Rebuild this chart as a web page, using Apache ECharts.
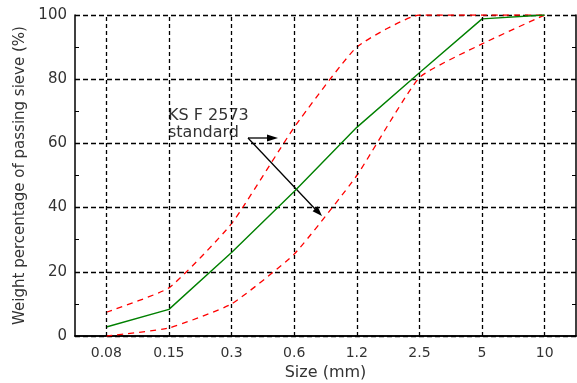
<!DOCTYPE html>
<html><head><meta charset="utf-8">
<script src="https://cdn.jsdelivr.net/npm/echarts@6/dist/echarts.min.js"></script>
<style>html,body{margin:0;padding:0;background:#fff}#c{width:577px;height:383px}</style>
</head><body><div id="c"></div>
<script>
const sizes = ['0.08','0.15','0.3','0.6','1.2','2.5','5','10'];
const measured = [2.8, 8.3, 26, 45, 65, 82, 98.8, 100];
const upperLimit = [7.4, 15, 35, 65, 90, 100, 100, 100];
const lowerLimit = [0, 2.5, 10, 25.5, 50, 80.5, 91, 100];
const yTicks = [0, 20, 40, 60, 80, 100];

const chart = echarts.init(document.getElementById('c'));
const FONT = '"DejaVu Sans", Verdana, sans-serif';
const redDash = {color:'#ff0000', width:1.3, type:[6,5]};
chart.setOption({
  animation:false,
  grid:{left:75, right:1, top:15, bottom:47, containLabel:false, outerBoundsMode:'none'},
  xAxis:[{
    type:'category', data:sizes, boundaryGap:true,
    name:'Size (mm)', nameLocation:'middle', nameGap:28,
    nameTextStyle:{fontFamily:FONT, fontSize:16, color:'#333'},
    axisLine:{lineStyle:{color:'#000', width:1.5}},
    axisTick:{inside:true, length:4, lineStyle:{color:'#000'}},
    axisLabel:{fontFamily:FONT, fontSize:14, color:'#333', margin:10},
    splitLine:{show:false}
  },{
    type:'category', data:sizes, boundaryGap:true, position:'top',
    axisLine:{lineStyle:{color:'#000', width:1.5}},
    axisTick:{inside:true, length:4, lineStyle:{color:'#000'}},
    axisLabel:{show:false}, splitLine:{show:false}
  }],
  yAxis:[{
    type:'value', min:0, max:100, interval:20,
    name:'Weight percentage of passing sieve (%)', nameLocation:'middle', nameGap:45,
    nameTextStyle:{fontFamily:FONT, fontSize:15, color:'#333'},
    axisLine:{show:true, lineStyle:{color:'#000', width:1.5}},
    axisTick:{show:true, inside:true, length:4, lineStyle:{color:'#000'}},
    minorTick:{show:true, splitNumber:2, length:4, lineStyle:{color:'#000'}},
    axisLabel:{fontFamily:FONT, fontSize:15, color:'#333', margin:8,
      formatter:(v)=> yTicks.includes(v) ? String(v) : ''},
    splitLine:{show:true, lineStyle:{color:'#000', width:1.3, type:[5,3]}}
  },{
    type:'value', min:0, max:100, interval:20, position:'right',
    axisLine:{show:true, lineStyle:{color:'#000', width:1.5}},
    axisTick:{show:true, inside:true, length:4, lineStyle:{color:'#000'}},
    minorTick:{show:true, splitNumber:2, length:4, lineStyle:{color:'#000'}},
    axisLabel:{show:false}, splitLine:{show:false}
  }],
  series:[
    {type:'line', data:[], z:1, silent:true,
     markLine:{silent:true, symbol:['none','none'], label:{show:false},
       lineStyle:{color:'#000', width:1.3, type:[4,3]},
       data: sizes.map(s=>({xAxis:s}))}},
    {type:'line', data:upperLimit, showSymbol:false, smooth:0.15, lineStyle:redDash, z:3},
    {type:'line', data:lowerLimit, showSymbol:false, smooth:0.15, lineStyle:redDash, z:3},
    {type:'line', data:measured, showSymbol:false, lineStyle:{color:'#008000', width:1.4}, z:4}
  ],
  graphic:[
    {type:'text', left:168, top:108, style:{text:'KS F 2573', font:'16px '+FONT, fill:'#333'}},
    {type:'text', left:168, top:125, style:{text:'standard', font:'16px '+FONT, fill:'#333'}},
    {type:'line', shape:{x1:248, y1:138, x2:270, y2:138}, style:{stroke:'#000', lineWidth:1.3}},
    {type:'polygon', shape:{points:[[278,138],[267,134.5],[267,141.5]]}, style:{fill:'#000'}},
    {type:'line', shape:{x1:248, y1:138, x2:316, y2:210}, style:{stroke:'#000', lineWidth:1.3}},
    {type:'polygon', shape:{points:[[322,216],[312.6,211.2],[317.6,206.3]]}, style:{fill:'#000'}}
  ]
});
</script></body></html>
